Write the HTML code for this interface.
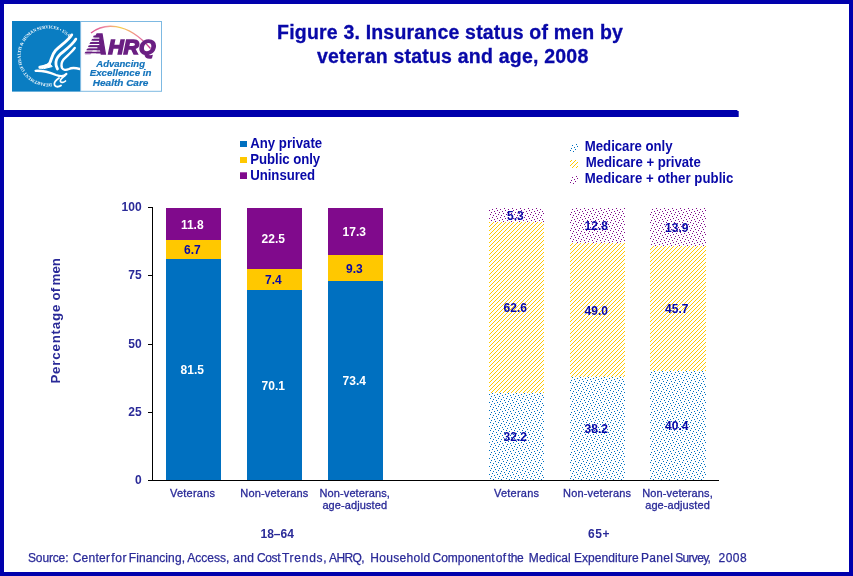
<!DOCTYPE html>
<html lang="en">
<head>
<meta charset="utf-8">
<title>Figure 3. Insurance status of men by veteran status and age, 2008</title>
<style>
html,body{margin:0;padding:0;background:#fff;}
body{width:853px;height:576px;overflow:hidden;position:relative;font-family:"Liberation Sans",Arial,sans-serif;}
svg{position:absolute;left:0;top:0;display:block;}
text{font-family:"Liberation Sans",Arial,sans-serif;}
.b{font-weight:bold;}
.serif{font-family:"Liberation Serif","Times New Roman",serif;}
</style>
</head>
<body>
<svg width="853" height="576" viewBox="0 0 853 576">
<defs>

<pattern id="pdB" patternUnits="userSpaceOnUse" x="0" y="0" width="8" height="8"><rect x="0" y="0" width="1" height="1" fill="#0070C0"/><rect x="4" y="1" width="1" height="1" fill="#0070C0"/><rect x="1" y="2" width="1" height="1" fill="#0070C0"/><rect x="6" y="3" width="1" height="1" fill="#0070C0"/><rect x="3" y="4" width="1" height="1" fill="#0070C0"/><rect x="7" y="5" width="1" height="1" fill="#0070C0"/><rect x="2" y="6" width="1" height="1" fill="#0070C0"/><rect x="5" y="7" width="1" height="1" fill="#0070C0"/></pattern>
<pattern id="pdP" patternUnits="userSpaceOnUse" x="0" y="0" width="8" height="8"><rect x="0" y="0" width="1" height="1" fill="#800A8C"/><rect x="4" y="1" width="1" height="1" fill="#800A8C"/><rect x="1" y="2" width="1" height="1" fill="#800A8C"/><rect x="6" y="3" width="1" height="1" fill="#800A8C"/><rect x="3" y="4" width="1" height="1" fill="#800A8C"/><rect x="7" y="5" width="1" height="1" fill="#800A8C"/><rect x="2" y="6" width="1" height="1" fill="#800A8C"/><rect x="5" y="7" width="1" height="1" fill="#800A8C"/></pattern>
<pattern id="pdY" patternUnits="userSpaceOnUse" x="0" y="0" width="4" height="4"><rect x="3" y="0" width="1" height="1" fill="#FFC800"/><rect x="2" y="1" width="1" height="1" fill="#FFC800"/><rect x="1" y="2" width="1" height="1" fill="#FFC800"/><rect x="0" y="3" width="1" height="1" fill="#FFC800"/></pattern>
<linearGradient id="arc" x1="0" y1="0" x2="1" y2="0">
<stop offset="0" stop-color="#D9488E"/><stop offset="0.25" stop-color="#F08CA0"/><stop offset="0.5" stop-color="#F6D24A"/><stop offset="0.8" stop-color="#EE7FA0"/><stop offset="1" stop-color="#C0308A"/>
</linearGradient>
<path id="seal" d="M 51.64 83.17 A 27.5 27.5 0 1 1 71.9 42.15"/>
</defs>

<rect x="0" y="0" width="853" height="576" fill="#fff"/>
<path d="M0 0H853V576H0Z M4 4V572H849V4Z" fill="#0000AC" fill-rule="evenodd"/>
<rect x="4" y="110" width="733.4" height="7" fill="#0000AC"/>
<rect x="737" y="111" width="1.7" height="6" fill="#0000AC"/>
<g id="logo">
<rect x="12" y="21" width="68.6" height="70.6" fill="#0A7DC2"/>
<text class="serif b" font-size="4.5" fill="#fff"><textPath href="#seal" textLength="112" lengthAdjust="spacingAndGlyphs">DEPARTMENT OF HEALTH &amp; HUMAN SERVICES • USA</textPath></text>
<g fill="none" stroke="#fff" stroke-linecap="round" stroke-linejoin="round">
<path d="M 71.7 34.9 C 69 40 60 46 55.5 50.5 C 52 54.5 51.5 59 50 62.5 C 49 65 47 66 39.8 67.2" stroke-width="2.9"/>
<path d="M 75.8 39.1 C 73 44.5 64 51 60 54.5 C 56.5 58 55.5 61 56 64.5 C 56.2 66.5 57 67.5 57.5 69" stroke-width="2.8"/>
<path d="M 74.8 47.9 C 72 52 66 56.5 63.5 59.5 C 61.5 62 61 65 62 68 C 63 70 66 70.3 69 69 C 72 67.5 76 68 79.8 69" stroke-width="2.4"/>
<path d="M 39.6 67.6 L 49.5 63.2 L 52.2 66.6 L 44 68.6 Z" fill="#fff" stroke-width="1"/>
<path d="M 35.6 70.8 C 42 70.5 50 72.5 56 75 C 60 76.5 64 77 66.3 74" stroke-width="2.3"/>
<path d="M 64.5 76 C 62 78 59.5 79.5 60.5 81.5 C 61.5 83 64 82.5 65.5 81" stroke-width="1.7"/>
<path d="M 59 78 C 56 80 53.5 82.5 54.5 85 C 55.5 87.5 59 87 61 85.5" stroke-width="1.9"/>
</g>
<rect x="80.6" y="21.5" width="80.9" height="69.8" fill="#fff" stroke="#7DB9E2" stroke-width="1"/>
<path d="M 91 33 C 103 23.5 126 20.5 150.5 48.5" fill="none" stroke="url(#arc)" stroke-width="1.3"/>
<path d="M 92.8 37.6 L 93.8 35.6 H 101 V 37.6 Z" fill="#6A1F82"/>
<path d="M 91.1 40.8 L 92.2 38.8 H 101 V 40.8 Z" fill="#6A1F82"/>
<path d="M 89.4 44.0 L 90.5 42.0 H 101 V 44.0 Z" fill="#6A1F82"/>
<path d="M 87.8 47.2 L 88.8 45.2 H 101 V 47.2 Z" fill="#6A1F82"/>
<path d="M 86.1 50.4 L 87.2 48.4 H 101 V 50.4 Z" fill="#6A1F82"/>
<path d="M 84.4 53.6 L 85.5 51.6 H 101 V 53.6 Z" fill="#6A1F82"/>
<text x="86.6" y="54.2" font-size="29.5" font-weight="bold" font-style="italic" fill="#6A1F82" stroke="#6A1F82" stroke-width="1.3" textLength="21" lengthAdjust="spacingAndGlyphs">A</text>
<rect x="82" y="37.6" width="17.3" height="1.1" fill="#fff"/>
<rect x="82" y="40.8" width="16.6" height="1.1" fill="#fff"/>
<rect x="82" y="44.0" width="16.0" height="1.1" fill="#fff"/>
<rect x="82" y="47.2" width="15.4" height="1.1" fill="#fff"/>
<rect x="82" y="50.4" width="14.7" height="1.1" fill="#fff"/>
<rect x="82" y="53.6" width="14.1" height="1.1" fill="#fff"/>
<text x="108.2" y="53.7" font-size="21" font-weight="bold" font-style="italic" fill="#6A1F82" stroke="#6A1F82" stroke-width="1.5" textLength="47.5" lengthAdjust="spacingAndGlyphs">HRQ</text>
<text x="120.6" y="66.7" text-anchor="middle" font-size="9.2" font-weight="bold" font-style="italic" fill="#1474BC" stroke="#1474BC" stroke-width="0.2" textLength="48.7" lengthAdjust="spacingAndGlyphs">Advancing</text>
<text x="120.6" y="76.4" text-anchor="middle" font-size="9.2" font-weight="bold" font-style="italic" fill="#1474BC" stroke="#1474BC" stroke-width="0.2" textLength="61.8" lengthAdjust="spacingAndGlyphs">Excellence in</text>
<text x="120.6" y="86.1" text-anchor="middle" font-size="9.2" font-weight="bold" font-style="italic" fill="#1474BC" stroke="#1474BC" stroke-width="0.2" textLength="55.6" lengthAdjust="spacingAndGlyphs">Health Care</text>
</g>
<text class="b" x="450" y="38.8" text-anchor="middle" font-size="19.5" fill="#0808A8" stroke="#0808A8" stroke-width="0.3" textLength="345.8" lengthAdjust="spacing">Figure 3. Insurance status of men by</text>
<text class="b" x="452.6" y="62.5" text-anchor="middle" font-size="19.5" fill="#0808A8" stroke="#0808A8" stroke-width="0.3" textLength="271.3" lengthAdjust="spacing">veteran status and age, 2008</text>
<rect x="166" y="208.0" width="55" height="32.0" fill="#800A8C"/>
<rect x="166" y="240.0" width="55" height="19.0" fill="#FFC800"/>
<rect x="166" y="259.0" width="55" height="221.0" fill="#0070C0"/>
<text class="b" x="192.3" y="228.5" text-anchor="middle" font-size="12" fill="#fff">11.8</text>
<text class="b" x="192.3" y="254.0" text-anchor="middle" font-size="12" fill="#0808A8">6.7</text>
<text class="b" x="192.3" y="374.0" text-anchor="middle" font-size="12" fill="#fff">81.5</text>
<rect x="247" y="208.0" width="55" height="61.0" fill="#800A8C"/>
<rect x="247" y="269.0" width="55" height="21.0" fill="#FFC800"/>
<rect x="247" y="290.0" width="55" height="190.0" fill="#0070C0"/>
<text class="b" x="273.3" y="243.0" text-anchor="middle" font-size="12" fill="#fff">22.5</text>
<text class="b" x="273.3" y="284.0" text-anchor="middle" font-size="12" fill="#0808A8">7.4</text>
<text class="b" x="273.3" y="389.5" text-anchor="middle" font-size="12" fill="#fff">70.1</text>
<rect x="328" y="208.0" width="55" height="47.0" fill="#800A8C"/>
<rect x="328" y="255.0" width="55" height="26.0" fill="#FFC800"/>
<rect x="328" y="281.0" width="55" height="199.0" fill="#0070C0"/>
<text class="b" x="354.3" y="236.0" text-anchor="middle" font-size="12" fill="#fff">17.3</text>
<text class="b" x="354.3" y="272.5" text-anchor="middle" font-size="12" fill="#0808A8">9.3</text>
<text class="b" x="354.3" y="385.0" text-anchor="middle" font-size="12" fill="#fff">73.4</text>
<rect x="489" y="208.0" width="55" height="14.0" fill="url(#pdP)"/>
<rect x="489" y="222.0" width="55" height="171.0" fill="url(#pdY)"/>
<rect x="489" y="393.0" width="55" height="87.0" fill="url(#pdB)"/>
<text class="b" x="515.3" y="219.5" text-anchor="middle" font-size="12" fill="#0808A8">5.3</text>
<text class="b" x="515.3" y="312.0" text-anchor="middle" font-size="12" fill="#0808A8">62.6</text>
<text class="b" x="515.3" y="441.0" text-anchor="middle" font-size="12" fill="#0808A8">32.2</text>
<rect x="570" y="208.0" width="55" height="35.0" fill="url(#pdP)"/>
<rect x="570" y="243.0" width="55" height="134.0" fill="url(#pdY)"/>
<rect x="570" y="377.0" width="55" height="103.0" fill="url(#pdB)"/>
<text class="b" x="596.3" y="230.0" text-anchor="middle" font-size="12" fill="#0808A8">12.8</text>
<text class="b" x="596.3" y="314.5" text-anchor="middle" font-size="12" fill="#0808A8">49.0</text>
<text class="b" x="596.3" y="433.0" text-anchor="middle" font-size="12" fill="#0808A8">38.2</text>
<rect x="650" y="208.0" width="56" height="38.0" fill="url(#pdP)"/>
<rect x="650" y="246.0" width="56" height="125.0" fill="url(#pdY)"/>
<rect x="650" y="371.0" width="56" height="109.0" fill="url(#pdB)"/>
<text class="b" x="676.8" y="231.5" text-anchor="middle" font-size="12" fill="#0808A8">13.9</text>
<text class="b" x="676.8" y="313.0" text-anchor="middle" font-size="12" fill="#0808A8">45.7</text>
<text class="b" x="676.8" y="430.0" text-anchor="middle" font-size="12" fill="#0808A8">40.4</text>
<rect x="152" y="207" width="1" height="274" fill="#000"/>
<rect x="148" y="480" width="571" height="1" fill="#000"/>
<rect x="148" y="207" width="5" height="1" fill="#000"/>
<text class="b" x="141.6" y="211.1" text-anchor="end" font-size="12" fill="#2A2A98">100</text>
<rect x="148" y="275" width="5" height="1" fill="#000"/>
<text class="b" x="141.6" y="279.4" text-anchor="end" font-size="12" fill="#2A2A98">75</text>
<rect x="148" y="344" width="5" height="1" fill="#000"/>
<text class="b" x="141.6" y="347.6" text-anchor="end" font-size="12" fill="#2A2A98">50</text>
<rect x="148" y="412" width="5" height="1" fill="#000"/>
<text class="b" x="141.6" y="415.9" text-anchor="end" font-size="12" fill="#2A2A98">25</text>
<text class="b" x="141.6" y="484.1" text-anchor="end" font-size="12" fill="#2A2A98">0</text>
<text class="b" transform="translate(60.2 383) rotate(-90)" font-size="13.3" fill="#2A2A98"><tspan x="-0.6" textLength="79" lengthAdjust="spacing">Percentage</tspan> <tspan x="82.5" textLength="12.6" lengthAdjust="spacing">of</tspan> <tspan x="97.6" textLength="27.4" lengthAdjust="spacing">men</tspan></text>
<rect x="240" y="141" width="7" height="6" fill="#0070C0"/>
<text class="b" transform="translate(0 147.6) scale(1 1.06)" x="250.2" y="0" font-size="13.2" fill="#0808A8" textLength="72" lengthAdjust="spacing">Any private</text>
<rect x="240" y="157" width="7" height="6" fill="#FFC800"/>
<text class="b" transform="translate(0 163.7) scale(1 1.06)" x="250.2" y="0" font-size="13.2" fill="#0808A8" textLength="70" lengthAdjust="spacing">Public only</text>
<rect x="240" y="172.3" width="7" height="6.7" fill="#800A8C"/>
<text class="b" transform="translate(0 179.8) scale(1 1.06)" x="250.2" y="0" font-size="13.2" fill="#0808A8" textLength="65" lengthAdjust="spacing">Uninsured</text>
<rect x="570" y="144" width="8" height="8" fill="url(#pdB)"/>
<text class="b" transform="translate(0 150.8) scale(1 1.06)" x="584.8" y="0" font-size="13.2" fill="#0808A8" textLength="87.8" lengthAdjust="spacing">Medicare only</text>
<rect x="570" y="160" width="8" height="8" fill="url(#pdY)"/>
<text class="b" transform="translate(0 166.8) scale(1 1.06)" x="585.8" y="0" font-size="13.2" fill="#0808A8" textLength="115" lengthAdjust="spacing">Medicare + private</text>
<rect x="570" y="176" width="8" height="8" fill="url(#pdP)"/>
<text class="b" transform="translate(0 182.8) scale(1 1.06)" x="584.8" y="0" font-size="13.2" fill="#0808A8" textLength="148.6" lengthAdjust="spacing">Medicare + other public</text>
<text x="192.5" y="496.8" text-anchor="middle" font-size="11" fill="#2A2A98" stroke="#2A2A98" stroke-width="0.3" textLength="45" lengthAdjust="spacing">Veterans</text>
<text x="274.3" y="496.8" text-anchor="middle" font-size="11" fill="#2A2A98" stroke="#2A2A98" stroke-width="0.3" textLength="68" lengthAdjust="spacing">Non-veterans</text>
<text x="354.7" y="496.8" text-anchor="middle" font-size="11" fill="#2A2A98" stroke="#2A2A98" stroke-width="0.3" textLength="70.4" lengthAdjust="spacing">Non-veterans,</text>
<text x="354.7" y="508.8" text-anchor="middle" font-size="11" fill="#2A2A98" stroke="#2A2A98" stroke-width="0.3" textLength="64.6" lengthAdjust="spacing">age-adjusted</text>
<text x="516.5" y="496.8" text-anchor="middle" font-size="11" fill="#2A2A98" stroke="#2A2A98" stroke-width="0.3" textLength="45" lengthAdjust="spacing">Veterans</text>
<text x="597" y="496.8" text-anchor="middle" font-size="11" fill="#2A2A98" stroke="#2A2A98" stroke-width="0.3" textLength="68" lengthAdjust="spacing">Non-veterans</text>
<text x="677.5" y="496.8" text-anchor="middle" font-size="11" fill="#2A2A98" stroke="#2A2A98" stroke-width="0.3" textLength="70.4" lengthAdjust="spacing">Non-veterans,</text>
<text x="677.5" y="508.8" text-anchor="middle" font-size="11" fill="#2A2A98" stroke="#2A2A98" stroke-width="0.3" textLength="64.6" lengthAdjust="spacing">age-adjusted</text>
<text class="b" x="277.2" y="537.8" text-anchor="middle" font-size="12" fill="#2A2A98">18–64</text>
<text class="b" x="598.8" y="537.8" text-anchor="middle" font-size="12" fill="#2A2A98" textLength="21.6" lengthAdjust="spacing">65+</text>
<text y="561.8" font-size="12" fill="#2A2A98" stroke="#2A2A98" stroke-width="0.25"><tspan x="28.0" textLength="40.5" lengthAdjust="spacing">Source:</tspan> <tspan x="72.7" textLength="37.3" lengthAdjust="spacing">Center</tspan> <tspan x="111.3" textLength="15.1" lengthAdjust="spacing">for</tspan> <tspan x="128.7" textLength="56.3" lengthAdjust="spacing">Financing,</tspan> <tspan x="187.3" textLength="42.0" lengthAdjust="spacing">Access,</tspan> <tspan x="233.2" textLength="20.8" lengthAdjust="spacing">and</tspan> <tspan x="256.9" textLength="23.7" lengthAdjust="spacing">Cost</tspan> <tspan x="281.9" textLength="44.8" lengthAdjust="spacing">Trends,</tspan> <tspan x="329.0" textLength="35.7" lengthAdjust="spacing">AHRQ,</tspan> <tspan x="370.2" textLength="60.1" lengthAdjust="spacing">Household</tspan> <tspan x="432.5" textLength="62.0" lengthAdjust="spacing">Component</tspan> <tspan x="495.8" textLength="10.4" lengthAdjust="spacing">of</tspan> <tspan x="507.8" textLength="15.8" lengthAdjust="spacing">the</tspan> <tspan x="528.8" textLength="41.9" lengthAdjust="spacing">Medical</tspan> <tspan x="573.9" textLength="64.8" lengthAdjust="spacing">Expenditure</tspan> <tspan x="641.0" textLength="31.9" lengthAdjust="spacing">Panel</tspan> <tspan x="675.2" textLength="35.7" lengthAdjust="spacing">Survey,</tspan> <tspan x="718.5" textLength="28.2" lengthAdjust="spacing">2008</tspan></text>
</svg>
</body>
</html>
